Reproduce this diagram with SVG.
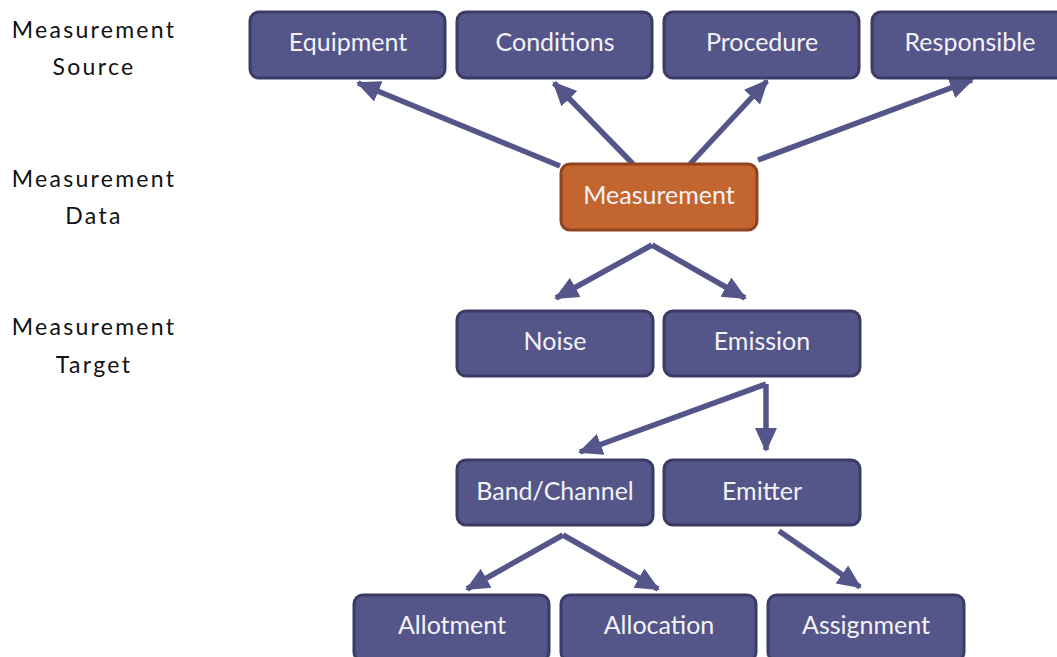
<svg xmlns="http://www.w3.org/2000/svg" width="1057" height="657" viewBox="0 0 1057 657">
  <style>
    .box { fill: #545589; stroke: #3b3b66; stroke-width: 3; }
    .hot { fill: #c2652e; stroke: #8e4421; stroke-width: 3; }
    .lbl { font-family: Lato, "Open Sans", "DejaVu Sans", sans-serif; font-size: 25px; fill: #f4f2f6; text-anchor: middle; }
    .side { font-family: Lato, "DejaVu Sans", sans-serif; font-size: 23px; fill: #111111; text-anchor: middle; letter-spacing: 2.3px; }
    .edge { stroke: #545589; stroke-width: 5.5; fill: none; marker-end: url(#head); }
  </style>
  <defs>
    <marker id="head" markerUnits="userSpaceOnUse" markerWidth="26" markerHeight="26" viewBox="0 0 26 26" refX="22" refY="13" orient="auto">
      <path d="M0,2 L24,13 L0,24 Z" fill="#545589"/>
    </marker>
  </defs>
  <rect width="1057" height="657" fill="#ffffff"/>

  <!-- row labels -->
  <g id="row-labels">
    <text class="side" x="94" y="38">Measurement</text>
    <text class="side" x="94" y="75">Source</text>
    <text class="side" x="94" y="187">Measurement</text>
    <text class="side" x="94" y="224">Data</text>
    <text class="side" x="94" y="335">Measurement</text>
    <text class="side" x="94" y="373">Target</text>
  </g>

  <!-- connectors -->
  <g id="connectors">
    <line class="edge" x1="560" y1="166" x2="358" y2="83"/>
    <line class="edge" x1="633" y1="164" x2="554" y2="83"/>
    <line class="edge" x1="690" y1="164" x2="767" y2="81"/>
    <line class="edge" x1="758" y1="160" x2="972" y2="80"/>
    <line class="edge" x1="652" y1="245" x2="556" y2="298"/>
    <line class="edge" x1="652" y1="245" x2="745" y2="298"/>
    <line class="edge" x1="766" y1="384" x2="580" y2="452"/>
    <line class="edge" x1="766" y1="384" x2="766" y2="450"/>
    <line class="edge" x1="563" y1="535" x2="467" y2="589"/>
    <line class="edge" x1="563" y1="535" x2="658" y2="589"/>
    <line class="edge" x1="779" y1="531" x2="860" y2="587"/>
  </g>

  <!-- source row -->
  <g id="equipment"><rect class="box" x="250" y="12" width="195" height="66" rx="9"/><text class="lbl" x="348" y="51">Equipment</text></g>
  <g id="conditions"><rect class="box" x="457" y="12" width="195" height="66" rx="9"/><text class="lbl" x="555" y="51">Conditions</text></g>
  <g id="procedure"><rect class="box" x="664" y="12" width="195" height="66" rx="9"/><text class="lbl" x="762" y="51">Procedure</text></g>
  <g id="responsible"><rect class="box" x="872" y="12" width="196" height="66" rx="9"/><text class="lbl" x="970" y="51">Responsible</text></g>

  <!-- data row -->
  <g id="measurement"><rect class="hot" x="561" y="164" width="196" height="66" rx="9"/><text class="lbl" x="659" y="204">Measurement</text></g>

  <!-- target row -->
  <g id="noise"><rect class="box" x="457" y="311" width="196" height="65" rx="9"/><text class="lbl" x="555" y="350">Noise</text></g>
  <g id="emission"><rect class="box" x="664" y="311" width="196" height="65" rx="9"/><text class="lbl" x="762" y="350">Emission</text></g>

  <g id="band-channel"><rect class="box" x="457" y="460" width="196" height="65" rx="9"/><text class="lbl" x="555" y="500">Band/Channel</text></g>
  <g id="emitter"><rect class="box" x="664" y="460" width="196" height="65" rx="9"/><text class="lbl" x="762" y="500">Emitter</text></g>

  <g id="allotment"><rect class="box" x="354" y="595" width="195" height="66" rx="9"/><text class="lbl" x="452" y="634">Allotment</text></g>
  <g id="allocation"><rect class="box" x="561" y="595" width="195" height="66" rx="9"/><text class="lbl" x="659" y="634">Allocation</text></g>
  <g id="assignment"><rect class="box" x="768" y="595" width="196" height="66" rx="9"/><text class="lbl" x="866" y="634">Assignment</text></g>
</svg>
